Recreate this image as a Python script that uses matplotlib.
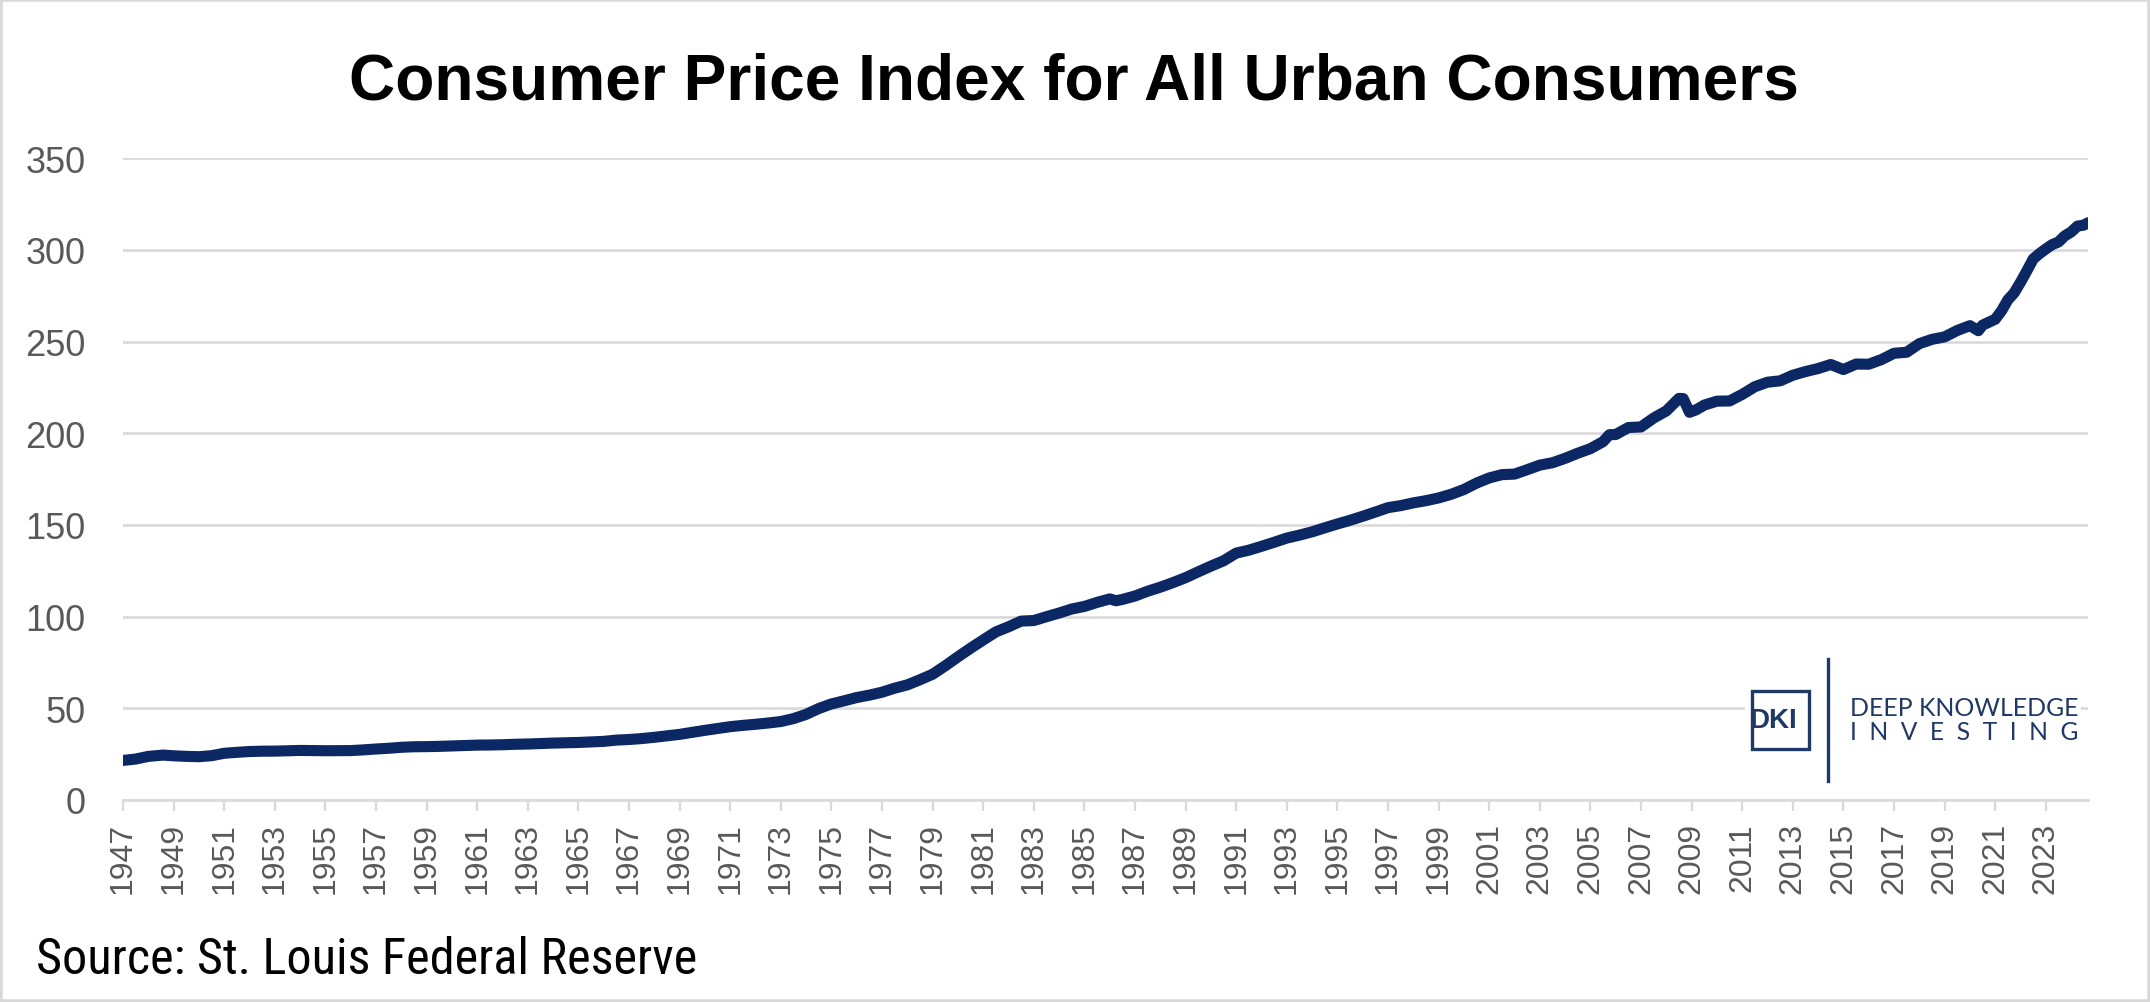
import matplotlib
matplotlib.use("Agg")
import matplotlib.pyplot as plt
from matplotlib import font_manager
from matplotlib.patches import Rectangle
from matplotlib.lines import Line2D

# ---------------- data ----------------
title = "Consumer Price Index for All Urban Consumers"
source = "Source: St. Louis Federal Reserve"
y_ticks = [0, 50, 100, 150, 200, 250, 300, 350]
x_tick_years = list(range(1947, 2024, 2))

dates = [
    "1947-01", "1947-07", "1948-01", "1948-08", "1949-01", "1949-07",
    "1950-01", "1950-07", "1951-01", "1951-07", "1952-01", "1952-07",
    "1953-01", "1953-07", "1954-01", "1954-07", "1955-01", "1955-07",
    "1956-01", "1956-07", "1957-01", "1957-07", "1958-01", "1958-07",
    "1959-01", "1959-07", "1960-01", "1960-07", "1961-01", "1961-07",
    "1962-01", "1962-07", "1963-01", "1963-07", "1964-01", "1964-07",
    "1965-01", "1965-07", "1966-01", "1966-07", "1967-01", "1967-07",
    "1968-01", "1968-07", "1969-01", "1969-07", "1970-01", "1970-07",
    "1971-01", "1971-07", "1972-01", "1972-07", "1973-01", "1973-07",
    "1974-01", "1974-07", "1975-01", "1975-07", "1976-01", "1976-07",
    "1977-01", "1977-07", "1978-01", "1978-07", "1979-01", "1979-07",
    "1980-01", "1980-07", "1981-01", "1981-07", "1982-01", "1982-07",
    "1983-01", "1983-07", "1984-01", "1984-07", "1985-01", "1985-07",
    "1986-01", "1986-04", "1986-07", "1987-01", "1987-07", "1988-01",
    "1988-07", "1989-01", "1989-07", "1990-01", "1990-07", "1991-01",
    "1991-07", "1992-01", "1992-07", "1993-01", "1993-07", "1994-01",
    "1994-07", "1995-01", "1995-07", "1996-01", "1996-07", "1997-01",
    "1997-07", "1998-01", "1998-07", "1999-01", "1999-07", "2000-01",
    "2000-07", "2001-01", "2001-07", "2002-01", "2002-07", "2003-01",
    "2003-07", "2004-01", "2004-07", "2005-01", "2005-07", "2005-10",
    "2006-01", "2006-07", "2007-01", "2007-07", "2008-01", "2008-07",
    "2008-09", "2008-12", "2009-03", "2009-07", "2010-01", "2010-07",
    "2011-01", "2011-07", "2012-01", "2012-07", "2013-01", "2013-07",
    "2014-01", "2014-07", "2015-01", "2015-07", "2016-01", "2016-07",
    "2017-01", "2017-07", "2018-01", "2018-07", "2019-01", "2019-07",
    "2020-01", "2020-05", "2020-07", "2021-01", "2021-04", "2021-07",
    "2021-10", "2022-01", "2022-04", "2022-07", "2022-10", "2023-01",
    "2023-04", "2023-07", "2023-10", "2024-01", "2024-04", "2024-07",
    "2024-09",
]
cpi = [
    21.48, 22.23, 23.68, 24.40, 24.01, 23.70,
    23.51, 24.07, 25.38, 25.91, 26.33, 26.53,
    26.56, 26.77, 26.93, 26.86, 26.77, 26.79,
    26.85, 27.23, 27.72, 28.11, 28.64, 28.94,
    29.01, 29.15, 29.37, 29.58, 29.84, 29.90,
    30.04, 30.30, 30.44, 30.68, 30.94, 31.08,
    31.28, 31.60, 31.88, 32.57, 32.90, 33.40,
    34.10, 34.90, 35.70, 36.80, 37.90, 38.90,
    39.90, 40.60, 41.20, 41.90, 42.70, 44.30,
    46.60, 49.80, 52.30, 54.00, 55.80, 57.10,
    58.70, 60.90, 62.70, 65.50, 68.50, 73.10,
    78.00, 82.70, 87.20, 91.60, 94.40, 97.50,
    97.80, 99.90, 101.90, 104.10, 105.50, 107.70,
    109.60, 108.60, 109.30, 111.20, 113.80, 116.00,
    118.50, 121.20, 124.40, 127.50, 130.40, 134.60,
    136.20, 138.30, 140.50, 142.80, 144.40, 146.20,
    148.40, 150.50, 152.50, 154.70, 157.00, 159.40,
    160.50, 162.00, 163.20, 164.70, 166.70, 169.30,
    172.80, 175.60, 177.40, 177.70, 180.10, 182.60,
    183.90, 186.30, 189.10, 191.60, 195.40, 199.20,
    199.30, 203.10, 203.44, 208.30, 212.17, 219.02,
    218.90, 211.40, 212.70, 215.35, 217.49, 217.61,
    221.19, 225.39, 227.84, 228.59, 231.64, 233.64,
    235.29, 237.50, 234.75, 237.74, 237.65, 240.17,
    243.62, 244.19, 248.86, 251.22, 252.56, 256.06,
    258.69, 255.94, 258.98, 262.20, 266.80, 272.79,
    276.60, 282.39, 288.60, 295.07, 297.99, 300.54,
    302.90, 304.35, 307.70, 309.79, 313.00, 313.53,
    314.85,
]

# ---------------- figure ----------------
W, H = 2150, 1003
fig = plt.figure(figsize=(W / 100, H / 100), dpi=100)
fig.patch.set_facecolor("white")

available = {f.name for f in font_manager.fontManager.ttflist}
narrow_font = "Liberation Sans"
for cand in ["Liberation Sans Narrow", "Roboto Condensed",
             "Open Sans Condensed", "Noto Sans Display"]:
    if cand in available:
        narrow_font = cand
        break

left_px, right_px, top_px, bottom_px = 123, 2088, 159.3, 800.8
ax = fig.add_axes([left_px / W, 1 - bottom_px / H,
                   (right_px - left_px) / W, (bottom_px - top_px) / H])

xs = [int(d[:4]) + (int(d[5:7]) - 1) / 12 for d in dates]
navy = "#0b2865"
ax.plot(xs, cpi, color=navy, lw=8.0, solid_capstyle="round",
        solid_joinstyle="round", zorder=3)

grid_c = "#d9d9d9"
ax.set_xlim(1947, xs[-1])
ax.set_ylim(0, 350)
ax.set_yticks(y_ticks)
ax.set_yticklabels([str(v) for v in y_ticks])
ax.set_xticks(x_tick_years)
ax.set_xticklabels([str(y) for y in x_tick_years], rotation=90)

ax.yaxis.grid(True, color=grid_c, lw=1.9)
ax.set_axisbelow(True)
for s in ["top", "right", "left"]:
    ax.spines[s].set_visible(False)
ax.spines["bottom"].set_color(grid_c)
ax.spines["bottom"].set_linewidth(1.9)
ax.spines["bottom"].set_zorder(1)

ax.tick_params(axis="y", length=0, pad=27, labelsize=26,
               labelcolor="#595959")
ax.tick_params(axis="x", length=8, width=1.6, color=grid_c, pad=8,
               labelsize=23, labelcolor="#595959")
for lab in ax.get_xticklabels() + ax.get_yticklabels():
    lab.set_family("Liberation Sans")

# title & source
t_title = fig.text(0.4995, 1 - 99 / H, title, ha="center", va="baseline",
                   fontsize=46, fontweight="bold", family="Liberation Sans",
                   color="black")
t_src = fig.text(36 / W, 1 - 974 / H, source, ha="left", va="baseline",
                 fontsize=31, family=narrow_font, color="black")

# logo
def fx(x):
    return x / W

def fy(y):
    return 1 - y / H

logo_c = "#1f3864"
fig.add_artist(Rectangle((fx(1745), fy(788)), fx(2081) - fx(1745),
                         fy(655) - fy(788), transform=fig.transFigure,
                         facecolor="white", edgecolor="none", zorder=5))
fig.add_artist(Rectangle((fx(1752), fy(750)), fx(1809) - fx(1752),
                         fy(692) - fy(750), transform=fig.transFigure,
                         facecolor="none", edgecolor=logo_c, lw=2.4,
                         zorder=6))
fig.text(fx(1773), fy(721), "DKI", ha="center", va="center",
         fontsize=20, fontweight="bold", family="Liberation Sans",
         color=logo_c, zorder=7)
fig.add_artist(Line2D([fx(1828), fx(1828)], [fy(660), fy(782)],
                      transform=fig.transFigure, color=logo_c, lw=2.4,
                      zorder=6))
t_deep = fig.text(fx(1850), fy(709), "DEEP KNOWLEDGE", ha="left",
                  va="center", fontsize=18, family="Lato", color=logo_c,
                  zorder=7)
t_inv = fig.text(fx(1850), fy(733), "I  N  V  E  S  T  I  N  G", ha="left",
                 va="center", fontsize=17, family="Lato", color=logo_c,
                 zorder=7)

# fit text widths to the reference
renderer = fig.canvas.get_renderer()
for txt, target in [(t_title, 1449.0), (t_src, 661.0),
                    (t_deep, 228.0), (t_inv, 228.0)]:
    w = txt.get_window_extent(renderer=renderer).width
    txt.set_fontsize(txt.get_fontsize() * target / w)

# outer border
fig.add_artist(Rectangle((0, 0), 1, 1, transform=fig.transFigure,
                         facecolor="none", edgecolor=grid_c, lw=4,
                         zorder=10))

fig.savefig("out.png", dpi=100, facecolor="white")
